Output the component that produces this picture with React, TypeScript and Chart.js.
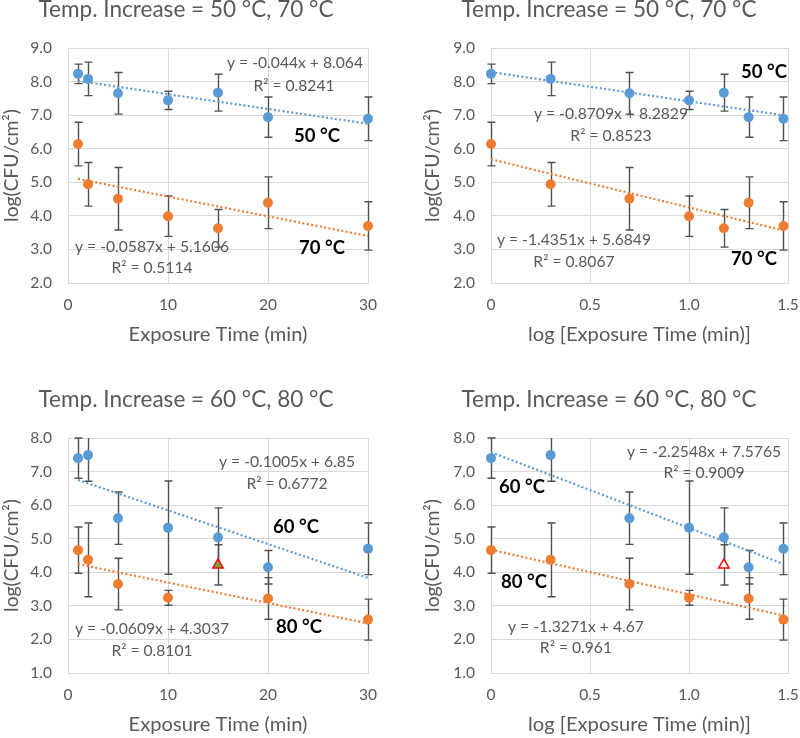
import React, { useEffect, useRef } from "react";
import { Chart, registerables } from "chart.js";
Chart.register(...registerables);

const FAMILY = "Lato, 'Open Sans', sans-serif";
const W = 400;
const H = 369;

// ---------- data ----------
const exposureMin = [1, 2, 5, 10, 15, 20, 30];
const logExposure = [0, 0.301, 0.699, 1, 1.176, 1.301, 1.477];

const mean50 = [8.23, 8.08, 7.65, 7.44, 7.67, 6.94, 6.89];
const err50 = [0.29, 0.5, 0.62, 0.27, 0.55, 0.6, 0.65];
const mean70 = [6.14, 4.94, 4.51, 3.99, 3.63, 4.39, 3.7];
const err70 = [0.65, 0.65, 0.93, 0.6, 0.56, 0.77, 0.72];

const mean60 = [7.4, 7.49, 5.61, 5.33, 5.04, 4.15, 4.7];
const err60 = [0.6, 0.78, 0.78, 1.39, 0.88, 0.5, 0.77];
const mean80 = [4.66, 4.37, 3.65, 3.24, null, 3.22, 2.59];
const err80 = [0.69, 1.1, 0.77, 0.22, null, 0.62, 0.61];
const outlier80Index = 4;
const outlier80 = 4.22;
const outlier80Err = 0.6;

const fit50Lin = [-0.044, 8.064];
const fit70Lin = [-0.0587, 5.1606];
const fit50Log = [-0.8709, 8.2829];
const fit70Log = [-1.4351, 5.6849];
const fit60Lin = [-0.1005, 6.85];
const fit80Lin = [-0.0609, 4.3037];
const fit60Log = [-2.2548, 7.5765];
const fit80Log = [-1.3271, 4.67];

const titleTop = "Temp. Increase = 50 °C, 70 °C";
const titleBottom = "Temp. Increase = 60 °C, 80 °C";
const xTitleLin = "Exposure Time (min)";
const xTitleLog = "log [Exposure Time (min)]";
const yTitle = "log(CFU/cm²)";

const BLUE = "#5B9BD5";
const ORANGE = "#ED7D31";
const GRAY = "#595959";

// ---------- font fitting ----------
const measureCtx = (typeof document !== "undefined"
  ? document.createElement("canvas").getContext("2d")
  : null) as CanvasRenderingContext2D | null;
function fitSize(text: string, target: number, weight = "normal") {
  if (!measureCtx) return 16;
  measureCtx.font = `${weight} 100px ${FAMILY}`;
  const w = measureCtx.measureText(text).width;
  return (100 * target) / w;
}
const titleSize = fitSize(titleTop, 295);
const xTitleSize = fitSize(xTitleLin, 179);
const yTitleSize = fitSize(yTitle, 113);
const eqSize = fitSize("y = -0.044x + 8.064", 136);
const labelSize = fitSize("50 °C", 46, "bold");
const tickSize = (fitSize("9.0", 23) + fitSize("10", 17)) / 2;

// ---------- panels ----------
type Ann = { text: string; x: number; y: number; bold?: boolean };
type Panel = {
  title: string;
  xTitle: string;
  xs: number[];
  xMin: number;
  xMax: number;
  xStep: number;
  yMin: number;
  yMax: number;
  fitRange: [number, number];
  series: { y: (number | null)[]; err: (number | null)[]; color: string; fit: number[] }[];
  outlier?: { fill: string };
  ann: Ann[];
  box: { left: number; right: number; top: number; bottom: number; titleX: number; titleY: number; yTitleX: number; xTitleY: number };
};

const panels: Panel[] = [
  {
    title: titleTop, xTitle: xTitleLin, xs: exposureMin, xMin: 0, xMax: 30, xStep: 10, yMin: 2, yMax: 9,
    fitRange: [1, 30],
    series: [
      { y: mean50, err: err50, color: BLUE, fit: fit50Lin },
      { y: mean70, err: err70, color: ORANGE, fit: fit70Lin },
    ],
    ann: [
      { text: "y = -0.044x + 8.064", x: 22.7, y: 8.55 },
      { text: "R² = 0.8241", x: 22.6, y: 7.87 },
      { text: "50 °C", x: 24.9, y: 6.38, bold: true },
      { text: "y = -0.0587x + 5.1606", x: 8.4, y: 3.07 },
      { text: "R² = 0.5114", x: 8.4, y: 2.45 },
      { text: "70 °C", x: 25.4, y: 3.04, bold: true },
    ],
    box: { left: 68, right: 368, top: 48, bottom: 283, titleX: 186, titleY: 10, yTitleX: 12, xTitleY: 335 },
  },
  {
    title: titleTop, xTitle: xTitleLog, xs: logExposure, xMin: 0, xMax: 1.5, xStep: 0.5, yMin: 2, yMax: 9,
    fitRange: [0, 1.477],
    series: [
      { y: mean50, err: err50, color: BLUE, fit: fit50Log },
      { y: mean70, err: err70, color: ORANGE, fit: fit70Log },
    ],
    ann: [
      { text: "50 °C", x: 1.379, y: 8.29, bold: true },
      { text: "y = -0.8709x + 8.2829", x: 0.606, y: 7.03 },
      { text: "R² = 0.8523", x: 0.606, y: 6.38 },
      { text: "y = -1.4351x + 5.6849", x: 0.419, y: 3.28 },
      { text: "R² = 0.8067", x: 0.419, y: 2.63 },
      { text: "70 °C", x: 1.328, y: 2.71, bold: true },
    ],
    box: { left: 91, right: 388, top: 48, bottom: 283, titleX: 209, titleY: 10, yTitleX: 33, xTitleY: 335 },
  },
  {
    title: titleBottom, xTitle: xTitleLin, xs: exposureMin, xMin: 0, xMax: 30, xStep: 10, yMin: 1, yMax: 8,
    fitRange: [1, 30],
    series: [
      { y: mean60, err: err60, color: BLUE, fit: fit60Lin },
      { y: mean80, err: err80, color: ORANGE, fit: fit80Lin },
    ],
    outlier: { fill: "#70AD47" },
    ann: [
      { text: "y = -0.1005x + 6.85", x: 21.9, y: 7.29 },
      { text: "R² = 0.6772", x: 21.9, y: 6.63 },
      { text: "60 °C", x: 22.8, y: 5.35, bold: true },
      { text: "y = -0.0609x + 4.3037", x: 8.4, y: 2.32 },
      { text: "R² = 0.8101", x: 8.4, y: 1.66 },
      { text: "80 °C", x: 23.1, y: 2.37, bold: true },
    ],
    box: { left: 68, right: 368, top: 69, bottom: 304, titleX: 186, titleY: 31, yTitleX: 12, xTitleY: 356 },
  },
  {
    title: titleBottom, xTitle: xTitleLog, xs: logExposure, xMin: 0, xMax: 1.5, xStep: 0.5, yMin: 1, yMax: 8,
    fitRange: [0, 1.477],
    series: [
      { y: mean60, err: err60, color: BLUE, fit: fit60Log },
      { y: mean80, err: err80, color: ORANGE, fit: fit80Log },
    ],
    outlier: { fill: "#FFFFFF" },
    ann: [
      { text: "y = -2.2548x + 7.5765", x: 1.076, y: 7.58 },
      { text: "R² = 0.9009", x: 1.076, y: 6.96 },
      { text: "60 °C", x: 0.157, y: 6.54, bold: true },
      { text: "80 °C", x: 0.167, y: 3.71, bold: true },
      { text: "y = -1.3271x + 4.67", x: 0.429, y: 2.37 },
      { text: "R² = 0.961", x: 0.429, y: 1.75 },
    ],
    box: { left: 91, right: 388, top: 69, bottom: 304, titleX: 209, titleY: 31, yTitleX: 33, xTitleY: 356 },
  },
];

// ---------- plugins ----------
const errorBarPlugin = {
  id: "errorBars",
  beforeDatasetsDraw(chart: any) {
    const { ctx, chartArea } = chart;
    const xs = chart.scales.x;
    const ys = chart.scales.y;
    ctx.save();
    ctx.strokeStyle = "#505050";
    ctx.lineWidth = 1.4;
    chart.data.datasets.forEach((ds: any) => {
      if (!ds.errorBars) return;
      ds.data.forEach((pt: any, i: number) => {
        const e = ds.errorBars[i];
        if (pt == null || pt.y == null || e == null) return;
        const px = Math.round(xs.getPixelForValue(pt.x)) + 0.5;
        const top = ys.getPixelForValue(pt.y + e);
        const bot = ys.getPixelForValue(pt.y - e);
        const t = Math.max(top, chartArea.top);
        const b = Math.min(bot, chartArea.bottom);
        ctx.beginPath();
        ctx.moveTo(px, t);
        ctx.lineTo(px, b);
        if (top >= chartArea.top - 0.5) {
          ctx.moveTo(px - 4, top);
          ctx.lineTo(px + 4, top);
        }
        if (bot <= chartArea.bottom + 0.5) {
          ctx.moveTo(px - 4, bot);
          ctx.lineTo(px + 4, bot);
        }
        ctx.stroke();
      });
    });
    ctx.restore();
  },
};

const textPlugin = {
  id: "panelText",
  afterDraw(chart: any) {
    const p: Panel = chart.options.plugins.panelText.panel;
    const { ctx, chartArea } = chart;
    const xs = chart.scales.x;
    const ys = chart.scales.y;
    ctx.save();
    ctx.textAlign = "center";
    ctx.textBaseline = "middle";
    ctx.fillStyle = GRAY;
    ctx.font = `normal ${titleSize}px ${FAMILY}`;
    ctx.fillText(p.title, p.box.titleX, p.box.titleY);
    ctx.font = `normal ${xTitleSize}px ${FAMILY}`;
    ctx.fillText(p.xTitle, (chartArea.left + chartArea.right) / 2, p.box.xTitleY);
    ctx.save();
    ctx.translate(p.box.yTitleX, (chartArea.top + chartArea.bottom) / 2);
    ctx.rotate(-Math.PI / 2);
    ctx.font = `normal ${yTitleSize}px ${FAMILY}`;
    ctx.fillText(yTitle, 0, 0);
    ctx.restore();
    p.ann.forEach((a) => {
      const px = xs.getPixelForValue(a.x);
      const py = ys.getPixelForValue(a.y);
      if (a.bold) {
        ctx.fillStyle = "#000000";
        ctx.font = `bold ${labelSize}px ${FAMILY}`;
      } else {
        ctx.fillStyle = GRAY;
        ctx.font = `normal ${eqSize}px ${FAMILY}`;
      }
      ctx.fillText(a.text, px, py);
    });
    ctx.restore();
  },
};

function buildConfig(p: Panel): any {
  const datasets: any[] = [];
  p.series.forEach((s) => {
    datasets.push({
      data: p.xs.map((x, i) => ({ x, y: s.y[i] })).filter((d) => d.y != null),
      errorBars: p.xs.map((_, i) => s.err[i]).filter((_, i) => s.y[i] != null),
      backgroundColor: s.color,
      borderColor: s.color,
      pointRadius: 5,
      pointBorderWidth: 0,
      showLine: false,
      clip: false,
      order: 3,
    });
  });
  p.series.forEach((s) => {
    const [m, b] = s.fit;
    datasets.push({
      data: p.fitRange.map((x) => ({ x, y: m * x + b })),
      showLine: true,
      borderColor: s.color,
      borderWidth: 2.2,
      borderDash: [2, 2.4],
      pointRadius: 0,
      fill: false,
      order: 1,
    });
  });
  if (p.outlier) {
    datasets.push({
      data: [{ x: p.xs[outlier80Index], y: outlier80 }],
      errorBars: [outlier80Err],
      pointStyle: "triangle",
      pointRadius: 6,
      backgroundColor: p.outlier.fill,
      borderColor: "#FF0000",
      pointBorderWidth: 1.5,
      showLine: false,
      clip: false,
      order: 0,
    });
  }
  const tickFont = { family: FAMILY, size: tickSize };
  return {
    type: "scatter",
    data: { datasets },
    options: {
      animation: false,
      responsive: false,
      maintainAspectRatio: false,
      events: [],
      layout: { padding: { left: 0, right: W - p.box.right, top: p.box.top, bottom: 0 } },
      plugins: {
        legend: { display: false },
        tooltip: { enabled: false },
        title: { display: false },
        panelText: { panel: p },
      },
      scales: {
        x: {
          type: "linear",
          min: p.xMin,
          max: p.xMax,
          ticks: { stepSize: p.xStep, color: GRAY, font: tickFont, padding: 13, maxRotation: 0, autoSkip: false },
          grid: { color: "#D9D9D9", drawTicks: false },
          border: { color: "#D9D9D9" },
          afterFit: (s: any) => {
            s.height = H - p.box.bottom;
            s.paddingLeft = 0;
            s.paddingRight = 0;
          },
        },
        y: {
          type: "linear",
          min: p.yMin,
          max: p.yMax,
          ticks: {
            stepSize: 1,
            color: GRAY,
            font: tickFont,
            padding: 16,
            callback: (v: any) => Number(v).toFixed(1),
          },
          grid: { color: "#D9D9D9", drawTicks: false },
          border: { color: "#D9D9D9" },
          afterFit: (s: any) => {
            s.width = p.box.left;
            s.paddingTop = 0;
            s.paddingBottom = 0;
          },
        },
      },
    },
    plugins: [errorBarPlugin, textPlugin],
  };
}

function PanelChart({ panel, left, top }: { panel: Panel; left: number; top: number }) {
  const ref = useRef<HTMLCanvasElement | null>(null);
  useEffect(() => {
    if (!ref.current) return;
    const chart = new Chart(ref.current, buildConfig(panel));
    return () => chart.destroy();
  }, [panel]);
  return (
    <canvas
      ref={ref}
      width={W}
      height={H}
      style={{ position: "absolute", left, top, width: W, height: H }}
    />
  );
}

export default function App() {
  return (
    <div
      style={{
        position: "absolute",
        left: 0,
        top: 0,
        width: 800,
        height: 738,
        background: "#FFFFFF",
        overflow: "hidden",
      }}
    >
      <PanelChart panel={panels[0]} left={0} top={0} />
      <PanelChart panel={panels[1]} left={400} top={0} />
      <PanelChart panel={panels[2]} left={0} top={369} />
      <PanelChart panel={panels[3]} left={400} top={369} />
    </div>
  );
}
